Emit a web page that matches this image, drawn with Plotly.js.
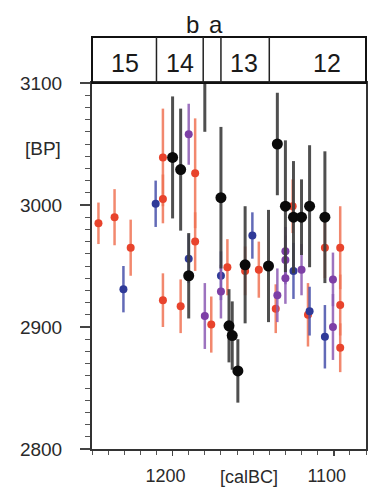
<!DOCTYPE html>
<html>
<head>
<meta charset="utf-8">
<script src="https://cdn.plot.ly/plotly-3.0.1.min.js"></script>
<style>
  html, body { margin: 0; padding: 0; background: #fff; }
  #chart { width: 370px; height: 488px; }
</style>
</head>
<body>
<div id="chart"></div>
<script>
// Radiocarbon dates (BP, 1σ) plotted against calendar age (BC)
const redYear = [1246, 1236, 1226, 1206, 1206, 1206, 1195, 1186, 1186, 1176, 1166, 1155, 1146.5, 1136, 1125.5, 1116, 1105.5, 1096, 1096, 1096];
const redBP   = [2985, 2990, 2965, 3039, 3005, 2922, 2917, 3026, 2970, 2902, 2949, 2946, 2947, 2915, 2999, 2910, 2965, 2965, 2918, 2883];
const redErr  = [17, 23, 23, 40, 20, 22, 22, 45, 24, 23, 23, 20, 23, 20, 22, 26, 25, 34, 25, 20];

const blueYear = [1230.5, 1210.5, 1190, 1170, 1150.5, 1125, 1115, 1105.5];
const blueBP   = [2931, 3001, 2956, 2942, 2975, 2946, 2913, 2892];
const blueErr  = [19, 19, 20, 20, 19, 23, 20, 26];

const purpleYear = [1190, 1180, 1170, 1135, 1130, 1130, 1130, 1120, 1100.5, 1100.5];
const purpleBP   = [3058, 2909, 2929, 2926, 2962, 2955, 2940, 2947, 2939, 2900];
const purpleErr  = [25, 27, 22, 22, 20, 20, 21, 21, 22, 27];

const blackYear = [1200, 1195, 1190, 1180, 1170, 1165, 1163, 1159.5, 1155, 1140.5, 1135, 1130, 1125, 1120, 1115, 1105.5];
const blackBP   = [3039, 3029, 2942, 3125, 3006, 2901, 2893, 2864, 2951, 2950, 3050, 2999, 2990, 2990, 2999, 2990];
const blackErr  = [50, 50, 35, 65, 58, 30, 28, 26, 48, 46, 42, 54, 46, 31, 50, 54];

// Phase band along the top
const phaseBounds = [1210, 1181, 1170, 1140];
const phaseNames  = ['15', '14', '13', '12'];
const phaseLabelAt = [1229.5, 1195.5, 1155.5, 1104];
const subPhaseNames = ['b', 'a'];
const subPhaseAt    = [1187.5, 1173.3];

const FONT = '"Liberation Sans", Arial, Helvetica, sans-serif';
const BAND_TOP = 1.1257;

function series(x, y, err, color, barColor, size, thick) {
  return {
    type: 'scatter', mode: 'markers', x: x, y: y,
    marker: { color: color, size: size },
    error_y: { type: 'data', array: err, visible: true, color: barColor, thickness: thick, width: 0 },
    hoverinfo: 'x+y', showlegend: false
  };
}

const traces = [
  series(redYear, redBP, redErr, '#e8432c', 'rgba(240,115,85,0.85)', 8, 2.5),
  series(blueYear, blueBP, blueErr, '#2f3a98', 'rgba(70,80,170,0.85)', 8, 2.5),
  series(purpleYear, purpleBP, purpleErr, '#7d3fa6', 'rgba(140,90,180,0.85)', 8, 2.5),
  series(blackYear, blackBP, blackErr, '#0a0a0a', 'rgba(60,60,60,0.9)', 11, 3)
];

const shapes = [{
  type: 'rect', xref: 'paper', yref: 'paper', x0: 0, x1: 1, y0: 1, y1: BAND_TOP,
  line: { color: '#111', width: 2 }, fillcolor: 'rgba(0,0,0,0)'
}];
phaseBounds.forEach(b => shapes.push({
  type: 'line', xref: 'x', yref: 'paper', x0: b, x1: b, y0: 1, y1: BAND_TOP,
  line: { color: '#222', width: 1.5 }
}));

const annotations = [];
phaseNames.forEach((t, i) => annotations.push({
  text: t, xref: 'x', yref: 'paper', x: phaseLabelAt[i], y: 1.0546,
  xanchor: 'center', yanchor: 'middle', showarrow: false,
  font: { family: FONT, size: 25, color: '#1a1a1a' }
}));
subPhaseNames.forEach((t, i) => annotations.push({
  text: t, xref: 'x', yref: 'paper', x: subPhaseAt[i], y: 1.161,
  xanchor: 'center', yanchor: 'middle', showarrow: false,
  font: { family: FONT, size: 24, color: '#1a1a1a' }
}));
annotations.push({
  text: '[BP]', xref: 'paper', yref: 'paper', x: -0.179, y: 0.822,
  xanchor: 'center', yanchor: 'middle', showarrow: false,
  font: { family: FONT, size: 19, color: '#2a2a2a' }
});
annotations.push({
  text: '[calBC]', xref: 'paper', yref: 'paper', x: 0.573, y: -0.076,
  xanchor: 'center', yanchor: 'middle', showarrow: false,
  font: { family: FONT, size: 18, color: '#2a2a2a' }
});

const layout = {
  width: 370, height: 488,
  margin: { l: 92, r: 4, t: 83, b: 39 },
  paper_bgcolor: '#fff', plot_bgcolor: '#fff',
  font: { family: FONT, color: '#2a2a2a' },
  xaxis: {
    range: [1250, 1080], tickmode: 'linear', tick0: 1100, dtick: 100,
    ticks: 'outside', ticklen: 5, tickwidth: 1.5, tickcolor: '#444',
    minor: { dtick: 10, tick0: 1100, ticks: 'outside', ticklen: 4, tickwidth: 1, tickcolor: '#555', showgrid: false },
    showline: true, linecolor: '#333', linewidth: 2, mirror: true,
    showgrid: false, zeroline: false,
    tickfont: { family: FONT, size: 18, color: '#2a2a2a' },
    ticklabelstandoff: 4, ticklabelshift: 7
  },
  yaxis: {
    range: [2800, 3100], tickmode: 'linear', tick0: 2800, dtick: 100,
    ticks: 'outside', ticklen: 10, tickwidth: 1.5, tickcolor: '#444',
    minor: { dtick: 10, tick0: 2800, ticks: 'outside', ticklen: 5, tickwidth: 1, tickcolor: '#555', showgrid: false },
    showline: true, linecolor: '#333', linewidth: 2, mirror: true,
    showgrid: false, zeroline: false,
    tickfont: { family: FONT, size: 19, color: '#2a2a2a' },
    ticklabelstandoff: 14
  },
  shapes: shapes,
  annotations: annotations
};

Plotly.newPlot('chart', traces, layout, { displayModeBar: false, staticPlot: true });
</script>
</body>
</html>
